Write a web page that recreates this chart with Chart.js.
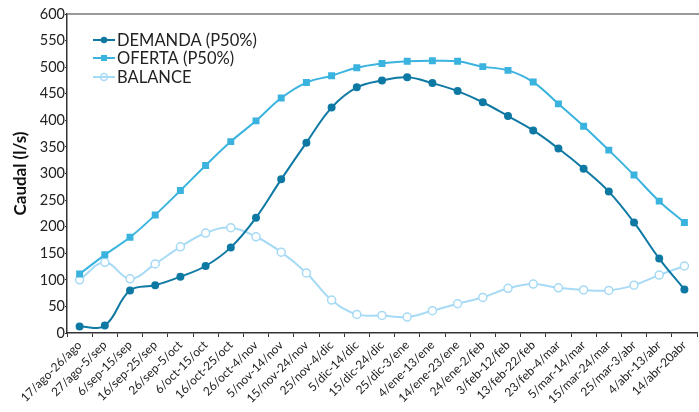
<!DOCTYPE html>
<html>
<head>
  <meta charset="utf-8" />
  <title>Caudal demanda / oferta</title>
  <script src="https://cdn.jsdelivr.net/npm/chart.js"></script>
  <style>
    html, body {
      margin: 0;
      padding: 0;
      background: #fff;
      overflow: hidden;
    }
    /* canvas a bit wider than the window: the plot runs off the right edge like the original */
    #wrap {
      width: 699px;
      height: 412px;
      overflow: hidden;
    }
  </style>
</head>
<body>
  <div id="wrap">
    <canvas id="chart" width="703" height="412"></canvas>
  </div>

  <script>
    // periodos de 10 dias
    const periodos = [
      '17/ago-26/ago', '27/ago-5/sep', '6/sep-15/sep', '16/sep-25/sep', '26/sep-5/oct',
      '6/oct-15/oct', '16/oct-25/oct', '26/oct-4/nov', '5/nov-14/nov', '15/nov-24/nov',
      '25/nov-4/dic', '5/dic-14/dic', '15/dic-24/dic', '25/dic-3/ene', '4/ene-13/ene',
      '14/ene-23/ene', '24/ene-2/feb', '3/feb-12/feb', '13/feb-22/feb', '23/feb-4/mar',
      '5/mar-14/mar', '15/mar-24/mar', '25/mar-3/abr', '4/abr-13/abr', '14/abr-20abr'
    ];

    // valores en l/s
    const demanda = [12, 14, 80, 90, 106, 126, 161, 217, 289, 358, 424, 462, 475, 481, 470,
                     455, 434, 408, 381, 347, 309, 266, 208, 140, 82];
    const oferta  = [111, 147, 180, 222, 268, 315, 360, 399, 442, 471, 484, 499, 507, 511, 512,
                     511, 501, 494, 472, 431, 389, 344, 297, 248, 208];
    const balance = [100, 133, 102, 130, 162, 188, 198, 181, 152, 113, 62, 35, 33, 30, 42,
                     55, 67, 84, 92, 85, 81, 80, 90, 109, 126];

    const yTicks = [0, 50, 100, 150, 200, 250, 300, 350, 400, 450, 500, 550, 600];

    const colDemanda = '#0e79a3';
    const colOferta = '#3bb3df';
    const colBalance = '#a6daf5';
    const fontName = 'Lato, "Open Sans", sans-serif';

    // leyenda dibujada dentro del area del grafico, arriba a la izquierda
    const legendInside = {
      id: 'legendInside',
      afterDraw(chart) {
        const ctx = chart.ctx;
        const x0 = 93, x1 = 115;
        const ys = [40, 58, 77];
        ctx.save();
        chart.data.datasets.forEach((ds, i) => {
          const y = ys[i];
          ctx.strokeStyle = ds.borderColor;
          ctx.lineWidth = 2;
          ctx.beginPath();
          ctx.moveTo(x0, y);
          ctx.lineTo(x1, y);
          ctx.stroke();
          const cx = (x0 + x1) / 2;
          ctx.lineWidth = 1.5;
          ctx.fillStyle = ds.pointBackgroundColor;
          ctx.strokeStyle = ds.borderColor;
          if (ds.pointStyle === 'rect') {
            ctx.fillRect(cx - 3, y - 3, 6, 6);
          } else {
            ctx.beginPath();
            ctx.arc(cx, y, ds.pointRadius - 0.5, 0, Math.PI * 2);
            if (ds.pointBackgroundColor !== '#fff') ctx.fill();
            ctx.stroke();
          }
          ctx.fillStyle = '#222';
          ctx.font = '16.5px ' + fontName;
          ctx.textBaseline = 'middle';
          ctx.fillText(ds.label, x1 + 2, y + 1);
        });
        ctx.restore();
      }
    };

    // linea gris superior del marco
    const topLine = {
      id: 'topLine',
      beforeDatasetsDraw(chart) {
        const a = chart.chartArea;
        const ctx = chart.ctx;
        ctx.save();
        ctx.strokeStyle = '#777';
        ctx.lineWidth = 1.5;
        ctx.beginPath();
        ctx.moveTo(a.left, a.top);
        ctx.lineTo(a.right + 10, a.top);
        ctx.stroke();
        ctx.restore();
      }
    };

    new Chart(document.getElementById('chart'), {
      type: 'line',
      data: {
        labels: periodos,
        datasets: [
          {
            label: 'DEMANDA (P50%)',
            data: demanda,
            borderColor: colDemanda,
            backgroundColor: colDemanda,
            pointBackgroundColor: colDemanda,
            pointBorderColor: colDemanda,
            pointStyle: 'circle',
            pointRadius: 3,
            borderWidth: 2,
            tension: 0.4
          },
          {
            label: 'OFERTA (P50%)',
            data: oferta,
            borderColor: colOferta,
            backgroundColor: colOferta,
            pointBackgroundColor: colOferta,
            pointBorderColor: colOferta,
            pointStyle: 'rect',
            pointRadius: 3.5,
            borderWidth: 2,
            tension: 0.4
          },
          {
            label: 'BALANCE',
            data: balance,
            borderColor: colBalance,
            backgroundColor: '#fff',
            pointBackgroundColor: '#fff',
            pointBorderColor: colBalance,
            pointStyle: 'circle',
            pointRadius: 4,
            pointBorderWidth: 1.5,
            borderWidth: 2,
            tension: 0.4
          }
        ]
      },
      options: {
        responsive: false,
        animation: false,
        layout: { padding: { top: 14, right: 1, left: 0, bottom: 0 } },
        plugins: {
          legend: { display: false },
          tooltip: { enabled: false }
        },
        scales: {
          x: {
            offset: true,
            grid: {
              display: true,
              drawOnChartArea: false,
              offset: true,
              tickLength: 4,
              color: '#333'
            },
            border: { color: '#333', width: 1.5 },
            ticks: {
              minRotation: 45,
              maxRotation: 45,
              autoSkip: false,
              padding: 1,
              color: '#222',
              font: { family: fontName, size: 12 }
            },
            afterFit(scale) { scale.height = 79; }
          },
          y: {
            min: 0,
            max: 600,
            afterBuildTicks(scale) {
              scale.ticks = yTicks.map(v => ({ value: v }));
            },
            grid: {
              display: true,
              drawOnChartArea: false,
              tickLength: 2,
              color: '#333'
            },
            border: { color: '#333', width: 1.5 },
            ticks: {
              padding: 0,
              color: '#222',
              font: { family: fontName, size: 14.5 }
            },
            title: {
              display: true,
              text: 'Caudal (l/s)',
              color: '#111',
              padding: { top: 10, bottom: 0 },
              font: { family: fontName, size: 17, weight: 'bold' }
            },
            afterFit(scale) { scale.width = 67; }
          }
        }
      },
      plugins: [legendInside, topLine]
    });
  </script>
</body>
</html>
